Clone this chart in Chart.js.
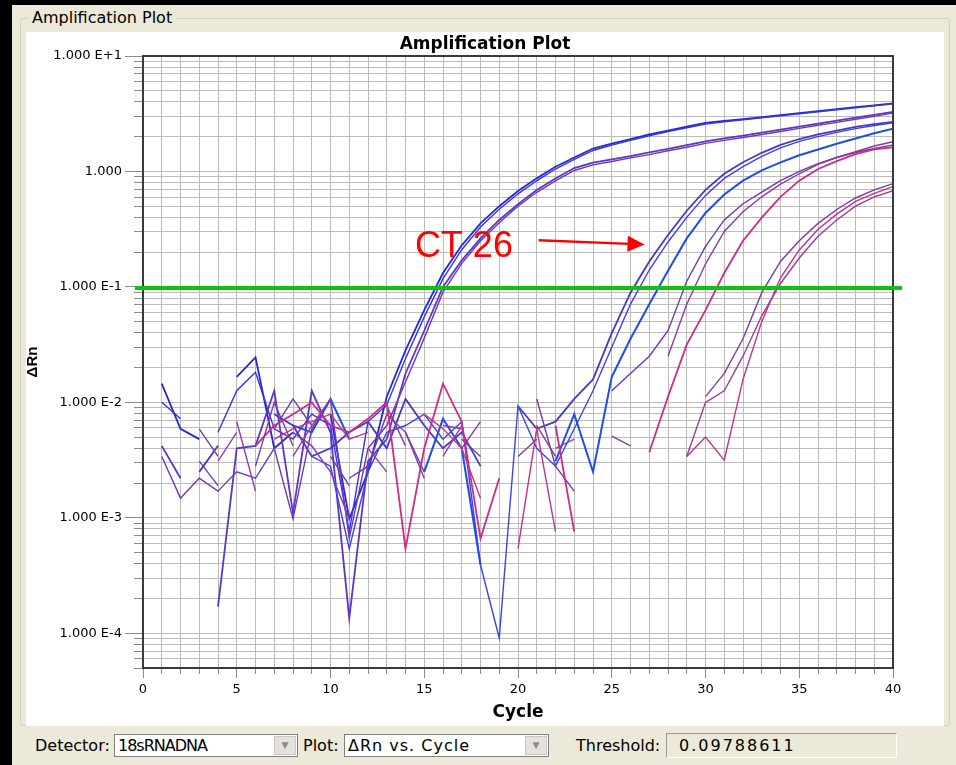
<!DOCTYPE html>
<html>
<head>
<meta charset="utf-8">
<script src="https://cdn.jsdelivr.net/npm/chart.js@4.4.1/dist/chart.umd.min.js"></script>
<style>
  body { margin: 0; width: 956px; height: 765px; background: #000; position: relative; overflow: hidden; font-family: "DejaVu Sans", sans-serif; }
  #panel { position: absolute; left: 12px; top: 5px; width: 944px; height: 760px; background: #ece9d8; }
  #groupLine { position: absolute; left: 20px; top: 18px; width: 928px; height: 706px; border: 1px solid #d0d0bf; border-radius: 3px; }
  #plotBg { position: absolute; left: 26px; top: 32px; width: 918px; height: 694px; background: #fff; }
  #groupLabel { position: absolute; left: 28px; top: 8px; padding: 0 4px; background: #ece9d8; font-size: 16px; color: #000; }
  #chartCanvas { position: absolute; left: 22px; top: 30px; }
  .lbl { position: absolute; top: 736px; font-size: 16px; color: #000; }
  .combo { position: absolute; top: 734px; height: 23px; box-sizing: border-box; background: #fff; border: 1px solid #7f7f7f; font-size: 16px; line-height: 21px; padding-left: 3px; color: #000; }
  .btn { position: absolute; right: 1px; top: 1px; width: 22px; height: 19px; box-sizing: border-box; background: #e4e2da; border: 1px solid #c8c8c8; color: #8a8a8a; font-size: 9px; line-height: 17px; text-align: center; letter-spacing: 0; }
  #thrBox { position: absolute; left: 666px; top: 733px; width: 231px; height: 25px; box-sizing: border-box; background: #ece9d8; border: 1px solid; border-color: #9a9a9a #ffffff #ffffff #9a9a9a; font-size: 16px; line-height: 23px; padding-left: 12px; letter-spacing: 2px; }
</style>
</head>
<body>
<div id="panel"></div>
<div id="groupLine"></div>
<div id="plotBg"></div>
<div id="groupLabel">Amplification Plot</div>
<canvas id="chartCanvas" width="920" height="700"></canvas>

<div class="lbl" style="left:35px">Detector:</div>
<div class="combo" style="left:114px;width:184px;letter-spacing:-1px">18sRNADNA<div class="btn">&#9660;</div></div>
<div class="lbl" style="left:303px">Plot:</div>
<div class="combo" style="left:344px;width:205px;letter-spacing:1px">&Delta;Rn vs. Cycle<div class="btn">&#9660;</div></div>
<div class="lbl" style="left:576px">Threshold:</div>
<div id="thrBox">0.09788611</div>

<script>
// cycle numbers (x)
const cycles = [1, 2, 3, 4, 5, 6, 7, 8, 9, 10, 11, 12, 13, 14, 15, 16, 17, 18, 19, 20,
  21, 22, 23, 24, 25, 26, 27, 28, 29, 30, 31, 32, 33, 34, 35, 36, 37, 38, 39, 40];

// delta Rn per well, null where the value drops out of the log plot
const wellA1 = [0.0145, 0.0059, 0.0048, null, 0.0166, 0.0245, 0.0040, 0.0055, null, 0.0079,
  0.00098, 0.0025, 0.0112, 0.0282, 0.063, 0.132, 0.229, 0.355, 0.50, 0.676,
  0.871, 1.10, 1.32, 1.58, 1.74, 1.91, 2.09, 2.26, 2.45, 2.63,
  2.74, 2.84, 2.96, 3.08, 3.20, 3.33, 3.46, 3.60, 3.74, 3.89];
const wellA2 = [0.0100, 0.0072, null, 0.0055, 0.0126, 0.0182, 0.0059, 0.0048, 0.0079, 0.0063,
  0.00076, 0.0068, 0.0095, 0.024, 0.055, 0.118, 0.21, 0.33, 0.47, 0.64,
  0.83, 1.05, 1.27, 1.52, 1.69, 1.86, 2.04, 2.21, 2.39, 2.57,
  2.69, 2.80, 2.92, 3.04, 3.16, 3.29, 3.42, 3.56, 3.71, 3.86];
const wellA3 = [0.0042, 0.0022, null, 0.00017, 0.0040, 0.0042, 0.0126, 0.0011, 0.0126, 0.0055,
  0.000135, 0.0031, 0.0048, 0.0178, 0.0417, 0.10, 0.17, 0.263, 0.38, 0.52,
  0.69, 0.87, 1.07, 1.19, 1.27, 1.36, 1.46, 1.57, 1.69, 1.82,
  1.93, 2.04, 2.17, 2.30, 2.44, 2.59, 2.75, 2.92, 3.09, 3.28];
const wellA4 = [0.0034, 0.00148, 0.0022, 0.0017, 0.0025, 0.0022, 0.0040, 0.00098, 0.0059, 0.0107,
  0.00066, 0.0040, 0.0063, 0.015, 0.036, 0.09, 0.16, 0.25, 0.36, 0.50,
  0.66, 0.83, 1.02, 1.14, 1.22, 1.31, 1.40, 1.51, 1.62, 1.75,
  1.86, 1.97, 2.09, 2.22, 2.36, 2.51, 2.66, 2.83, 3.00, 3.20];
const wellB1 = [null, null, 0.0025, 0.0042, null, null, 0.0079, 0.0063, 0.0034, 0.0040,
  0.0055, 0.0068, 0.0040, 0.0107, 0.0063, 0.0040, 0.0055, 0.0028, null, 0.0093,
  0.0059, 0.0068, 0.0107, 0.0158, 0.0398, 0.0891, 0.166, 0.282, 0.457, 0.692,
  0.955, 1.20, 1.45, 1.70, 1.91, 2.09, 2.26, 2.43, 2.57, 2.69];
const wellB2 = [null, null, null, null, null, null, null, null, 0.0034, 0.0028,
  0.00054, 0.0025, 0.0055, 0.0063, 0.0079, 0.0048, 0.0068, 0.00039, 0.000091, 0.0093,
  0.0040, 0.0028, 0.0059, 0.0126, 0.030, 0.071, 0.14, 0.245, 0.40, 0.62,
  0.87, 1.10, 1.35, 1.60, 1.82, 2.00, 2.18, 2.35, 2.50, 2.64];
const wellB3 = [null, null, null, null, null, null, null, 0.0063, 0.0055, 0.0107,
  0.0048, null, null, null, 0.0025, 0.0072, 0.0040, 0.00039, null, null,
  null, 0.0031, 0.0079, 0.0025, 0.0166, 0.0355, 0.0708, 0.138, 0.263, 0.437,
  0.631, 0.832, 1.02, 1.20, 1.38, 1.55, 1.74, 1.93, 2.14, 2.34];
const wellC1 = [null, null, 0.0031, 0.0019, null, null, 0.0059, 0.0107, 0.0063, null,
  0.0022, 0.0028, 0.0079, 0.0055, 0.0025, null, 0.0048, 0.0034, null, null,
  0.0107, 0.0028, 0.0017, null, 0.0126, 0.0178, 0.0251, 0.0417, 0.112, 0.224,
  0.380, 0.525, 0.661, 0.832, 1.00, 1.17, 1.32, 1.46, 1.58, 1.70];
const wellC2 = [null, 0.0022, null, null, 0.0068, 0.0017, null, 0.0055, 0.0042, 0.0025,
  0.00098, null, 0.0093, 0.0042, null, 0.0063, 0.0059, null, null, null,
  0.0063, 0.0034, null, null, 0.0051, 0.0042, null, 0.0251, 0.0708, 0.158,
  0.302, 0.447, 0.603, 0.776, 0.955, 1.15, 1.32, 1.48, 1.66, 1.81];
const wellC3 = [null, null, null, null, null, 0.0042, 0.0063, 0.0079, 0.0100, 0.0063,
  0.0055, 0.0072, 0.0100, 0.00054, 0.0040, 0.0145, 0.0068, 0.00066, 0.0022, null,
  null, 0.0063, 0.00076, null, null, null, 0.0037, 0.0112, 0.0316, 0.063,
  0.132, 0.251, 0.398, 0.603, 0.832, 1.05, 1.23, 1.41, 1.55, 1.62];
const wellD1 = [null, null, 0.0059, 0.0034, null, 0.0028, 0.0100, 0.0042, null, 0.0034,
  0.0019, null, null, 0.0055, 0.0022, null, 0.0040, 0.0068, null, 0.0034,
  0.0048, null, null, null, null, null, null, null, null, 0.0112,
  0.0178, 0.0355, 0.0891, 0.166, 0.251, 0.355, 0.468, 0.589, 0.692, 0.785];
const wellD2 = [null, null, null, null, null, null, 0.0048, 0.0059, 0.0068, 0.0079,
  0.0048, 0.0055, null, null, 0.0079, 0.0059, 0.0040, 0.00148, null, 0.00054,
  0.0059, 0.00076, null, null, null, null, null, null, 0.0034, 0.0050,
  0.00316, 0.0158, 0.050, 0.120, 0.209, 0.316, 0.427, 0.550, 0.646, 0.740];
const wellD3 = [null, null, null, 0.0031, 0.0055, null, null, 0.0034, 0.0063, 0.0107,
  null, 0.0040, 0.0025, null, null, 0.0034, 0.0063, null, null, null,
  null, 0.0040, 0.0048, null, null, null, null, null, 0.0034, 0.0100,
  0.0126, 0.0251, 0.0562, 0.107, 0.178, 0.275, 0.380, 0.501, 0.603, 0.680];

const threshold = 0.09788611;
const chartTitle = "Amplification Plot";
const ctText = "CT 26";

// axis range and labelled ticks
const xMin = 0, xMax = 40;
const yMin = 0.00005, yMax = 10;
const yMajorValues = [0.0001, 0.001, 0.01, 0.1, 1, 10];
const yMajorLabels = ["1.000 E-4", "1.000 E-3", "1.000 E-2", "1.000 E-1", "1.000", "1.000 E+1"];

const wells = [
  { data: wellD3, color: "#9a3c9c" },
  { data: wellD2, color: "#c2338a" },
  { data: wellD1, color: "#7c3ca4" },
  { data: wellC3, color: "#d02a86", width: 1.8 },
  { data: wellC2, color: "#8a3aa4" },
  { data: wellC1, color: "#6a3cb0" },
  { data: wellB3, color: "#1f4cf0", width: 2 },
  { data: wellB2, color: "#3a44e0" },
  { data: wellB1, color: "#4a38c4", width: 1.8 },
  { data: wellA4, color: "#7038b8" },
  { data: wellA3, color: "#5e36c4", width: 1.8 },
  { data: wellA2, color: "#3434e4" },
  { data: wellA1, color: "#2828d0", width: 1.8 }
];

const yMajorIndex = (v) => yMajorValues.findIndex((m) => Math.abs(v / m - 1) < 1e-6);

const yTickValues = [];
for (let e = -5; e <= 0; e++) {
  for (let m = 1; m <= 9; m++) {
    const v = m * Math.pow(10, e);
    if (v >= yMin * 0.999) yTickValues.push(v);
  }
}
yTickValues.push(yMax);

const xTickValues = [];
for (let c = xMin; c <= xMax; c++) xTickValues.push(c);

// title, plot frame, threshold line and the CT note
const plotDecor = {
  id: "plotDecor",
  afterDatasetsDraw(chart) {
    const { ctx, chartArea: a, scales } = chart;
    const xs = scales.x, ys = scales.y;
    ctx.save();
    ctx.strokeStyle = "#3a3a3a";
    ctx.lineWidth = 2;
    ctx.beginPath();
    ctx.moveTo(a.left, a.top);
    ctx.lineTo(a.right, a.top);
    ctx.lineTo(a.right, a.bottom);
    ctx.stroke();

    ctx.fillStyle = "#000";
    ctx.font = "bold 17px 'DejaVu Sans', sans-serif";
    ctx.textAlign = "center";
    ctx.textBaseline = "middle";
    ctx.fillText(chartTitle, 463, 15);

    const ty = ys.getPixelForValue(threshold);
    ctx.strokeStyle = "#0cc40c";
    ctx.lineWidth = 4;
    ctx.beginPath();
    ctx.moveTo(a.left - 8, ty);
    ctx.lineTo(a.right + 9, ty);
    ctx.stroke();

    ctx.fillStyle = "#ff0000";
    ctx.font = "36px 'Liberation Sans', Arial, sans-serif";
    ctx.textAlign = "left";
    ctx.textBaseline = "alphabetic";
    ctx.fillText(ctText, xs.getPixelForValue(14.5), ys.getPixelForValue(0.18));

    const x1 = xs.getPixelForValue(21.1), y1 = ys.getPixelForValue(0.254);
    const x2 = xs.getPixelForValue(26.75), y2 = ys.getPixelForValue(0.233);
    const ang = Math.atan2(y2 - y1, x2 - x1);
    ctx.strokeStyle = "#ff0000";
    ctx.lineWidth = 2.5;
    ctx.beginPath();
    ctx.moveTo(x1, y1);
    ctx.lineTo(x2 - 15 * Math.cos(ang), y2 - 15 * Math.sin(ang));
    ctx.stroke();
    ctx.beginPath();
    ctx.moveTo(x2, y2);
    ctx.lineTo(x2 - 17 * Math.cos(ang) + 8 * Math.sin(ang), y2 - 17 * Math.sin(ang) - 8 * Math.cos(ang));
    ctx.lineTo(x2 - 17 * Math.cos(ang) - 8 * Math.sin(ang), y2 - 17 * Math.sin(ang) + 8 * Math.cos(ang));
    ctx.closePath();
    ctx.fill();
    ctx.restore();
  }
};

new Chart(document.getElementById("chartCanvas"), {
  type: "line",
  data: {
    labels: cycles,
    datasets: wells.map((w) => ({
      data: w.data,
      borderColor: w.color,
      borderWidth: w.width || 1.4,
      pointRadius: 0,
      tension: 0,
      fill: false,
      spanGaps: false
    }))
  },
  options: {
    responsive: false,
    animation: false,
    devicePixelRatio: 1,
    layout: { padding: { left: 0, right: 49, top: 26, bottom: 0 } },
    plugins: {
      legend: { display: false },
      tooltip: { enabled: false },
      title: { display: false }
    },
    scales: {
      x: {
        type: "linear",
        min: xMin,
        max: xMax,
        afterFit: (s) => { s.height = 62; },
        afterBuildTicks: (s) => { s.ticks = xTickValues.map((v) => ({ value: v })); },
        ticks: {
          autoSkip: false,
          maxRotation: 0,
          padding: 4,
          color: "#000",
          font: { family: "DejaVu Sans", size: 13 },
          callback: (v) => (v % 5 === 0 ? String(v) : "")
        },
        grid: {
          color: "#bcbcbc",
          lineWidth: 1,
          tickLength: 10,
          tickColor: "#8c8c8c",
          tickBorderDash: (c) => (c.tick && c.tick.value % 5 === 0 ? [] : [5, 20])
        },
        border: { color: "#3a3a3a", width: 2 },
        title: {
          display: true,
          text: "Cycle",
          color: "#000",
          font: { family: "DejaVu Sans", size: 17, weight: "bold" },
          padding: { top: 0, bottom: 7 }
        }
      },
      y: {
        type: "logarithmic",
        min: yMin,
        max: yMax,
        afterFit: (s) => { s.width = 121; },
        afterBuildTicks: (s) => { s.ticks = yTickValues.map((v) => ({ value: v })); },
        ticks: {
          autoSkip: false,
          padding: 3,
          color: "#000",
          font: { family: "DejaVu Sans", size: 13 },
          callback: (v) => {
            const i = yMajorIndex(v);
            return i >= 0 ? yMajorLabels[i] : "";
          }
        },
        grid: {
          color: "#bcbcbc",
          lineWidth: 1,
          tickLength: 18,
          tickColor: "#8c8c8c",
          tickBorderDash: (c) => (c.tick && yMajorIndex(c.tick.value) >= 0 ? [] : [0, 9, 9, 0])
        },
        border: { color: "#3a3a3a", width: 2 },
        title: {
          display: true,
          text: "ΔRn",
          color: "#000",
          font: { family: "Liberation Sans", size: 15, weight: "bold" },
          padding: { top: 1.4, bottom: 0 }
        }
      }
    }
  },
  plugins: [plotDecor]
});
</script>
</body>
</html>
